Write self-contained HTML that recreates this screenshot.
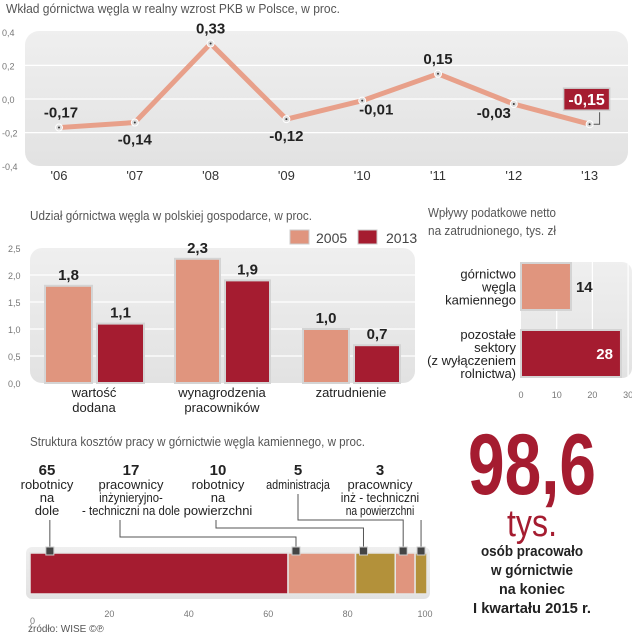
<!DOCTYPE html>
<html><head><meta charset="utf-8">
<style>
body{margin:0;background:#fff;}
svg{display:block;font-family:"Liberation Sans Narrow","Liberation Sans",sans-serif;}
.t{fill:#555;font-size:13px;}
.ax{fill:#777;font-size:9px;}
.lb{fill:#222;font-size:15px;font-weight:bold;}
.cat{fill:#222;font-size:13px;}
</style></head><body>
<svg id="c" width="632" height="640" viewBox="0 0 632 640">
<defs>
<linearGradient id="pg" x1="0" y1="0" x2="0" y2="1"><stop offset="0" stop-color="#efefef"/><stop offset="1" stop-color="#e2e2e2"/></linearGradient>
</defs>
<text class="t" x="6" y="13" textLength="334" lengthAdjust="spacingAndGlyphs">Wkład górnictwa węgla w realny wzrost PKB w Polsce, w proc.</text>
<rect x="25" y="31" width="603" height="135" rx="14" fill="url(#pg)"/>
<g id="lineG"></g>
<text class="t" x="30" y="220" textLength="282" lengthAdjust="spacingAndGlyphs">Udział górnictwa węgla w polskiej gospodarce, w proc.</text>
<rect x="290" y="230" width="19" height="14" fill="#e0957e" stroke="#ccc"/>
<text x="316" y="243" fill="#444" font-size="14">2005</text>
<rect x="358" y="230" width="19" height="14" fill="#a51c30" stroke="#ccc"/>
<text x="386" y="243" fill="#444" font-size="14">2013</text>
<rect x="30" y="248" width="385" height="135" rx="12" fill="url(#pg)"/>
<g id="barG"></g>
<text class="t" x="428" y="217" textLength="128" lengthAdjust="spacingAndGlyphs">Wpływy podatkowe netto</text>
<text class="t" x="428" y="235" textLength="128" lengthAdjust="spacingAndGlyphs">na zatrudnionego, tys. zł</text>
<rect x="521" y="262" width="111" height="116" rx="10" fill="url(#pg)"/>
<g id="taxG"></g>
<text class="t" x="30" y="446" textLength="335" lengthAdjust="spacingAndGlyphs">Struktura kosztów pracy w górnictwie węgla kamiennego, w proc.</text>
<rect x="26" y="547" width="404" height="52" rx="6" fill="url(#pg)"/>
<g id="stackG"></g>
<text x="468" y="494" textLength="128" lengthAdjust="spacingAndGlyphs" fill="#a51c30" font-size="86" font-weight="bold">98,6</text>
<text x="532" y="536" text-anchor="middle" fill="#a51c30" font-size="38" textLength="50" lengthAdjust="spacingAndGlyphs">tys.</text>
<g font-size="15" font-weight="bold" fill="#222" text-anchor="middle">
<text x="532" y="556" textLength="102" lengthAdjust="spacingAndGlyphs">osób pracowało</text><text x="532" y="575" textLength="82" lengthAdjust="spacingAndGlyphs">w górnictwie</text><text x="532" y="594" textLength="66" lengthAdjust="spacingAndGlyphs">na koniec</text><text x="532" y="613" textLength="118" lengthAdjust="spacingAndGlyphs">I kwartału 2015 r.</text></g>
<text x="28" y="632" fill="#555" font-size="10">źródło: WISE  ©℗</text>
</svg>
<script>
const NS="http://www.w3.org/2000/svg";
function mk(p,tag,at,txt){const e=document.createElementNS(NS,tag);for(const k in at)e.setAttribute(k,at[k]);if(txt!==undefined)e.textContent=txt;p.appendChild(e);return e;}
const years=["'06","'07","'08","'09","'10","'11","'12","'13"];
const gdpVals=[-0.17,-0.14,0.33,-0.12,-0.01,0.15,-0.03,-0.15];
const gdpLabels=["-0,17","-0,14","0,33","-0,12","-0,01","0,15","-0,03","-0,15"];
const gdpTicks=[0.4,0.2,0.0,-0.2,-0.4];
const gdpTickLabels=["0,4","0,2","0,0","-0,2","-0,4"];
const barCats=[["wartość","dodana"],["wynagrodzenia","pracowników"],["zatrudnienie"]];
const v2005=[1.8,2.3,1.0];
const v2013=[1.1,1.9,0.7];
const lbl2005=["1,8","2,3","1,0"];
const lbl2013=["1,1","1,9","0,7"];
const barTicks=[2.5,2.0,1.5,1.0,0.5,0.0];
const barTickLabels=["2,5","2,0","1,5","1,0","0,5","0,0"];
const taxCats=[["górnictwo","węgla","kamiennego"],["pozostałe","sektory","(z wyłączeniem","rolnictwa)"]];
const taxVals=[14,28];
const taxTicks=[0,10,20,30];
const stackVals=[65,17,10,5,3];
const stackNums=["65","17","10","5","3"];
const stackNames=[["robotnicy","na","dole"],["pracownicy","inżynieryjno-","- techniczni na dole"],["robotnicy","na","powierzchni"],["administracja"],["pracownicy","inż - techniczni","na powierzchni"]];
const stackTicks=[0,20,40,60,80,100];

(function(){
 const g=document.getElementById('lineG');
 const y=v=>99-v*168, x=i=>59+i*75.8;
 gdpTicks.forEach((t,i)=>{
  if(Math.abs(t)<0.4){const l=mk(g,'line',{x1:25,x2:628,y1:y(t),y2:y(t),stroke:'#fff','stroke-width':1.2});
  
  }
  const tx=mk(g,'text',{x:2,y:y(t)+4,class:'ax'},gdpTickLabels[i]);
  
  
 });
 const pl=mk(g,'polyline',{points:gdpVals.map((v,i)=>x(i)+','+y(v)).join(' '),fill:'none',stroke:'#e8a08a','stroke-width':5,'stroke-linejoin':'round'});
 
 
 const above=[true,false,true,false,false,true,false,null];
 gdpVals.forEach((v,i)=>{
  const c=mk(g,'circle',{cx:x(i),cy:y(v),r:3.5,fill:'#ddd',stroke:'#fff','stroke-width':1});
  
  
  mk(g,'circle',{cx:x(i),cy:y(v),r:1,fill:'#333'});
  const yl=mk(g,'text',{x:x(i),y:180,'text-anchor':'middle',fill:'#333','font-size':13},years[i]);
  
  
  let lt;
  if(above[i]===null){
   mk(g,'polyline',{points:`${x(i)+4},${y(v)} ${x(i)+10},${y(v)} ${x(i)+10},${y(v)-12}`,fill:'none',stroke:'#555'});
   const r=mk(g,'rect',{x:x(i)-26,y:y(v)-36,width:46,height:22,fill:'#a51c30',stroke:'#ccc','stroke-width':1.5});
   
   
   lt=mk(g,'text',{x:x(i)-3,y:y(v)-19,'text-anchor':'middle',fill:'#fff','font-size':16,'font-weight':'bold'},gdpLabels[i]);
  }else{
   const dx=(i===4||i===6)?14:(i===0?2:0);
   const ty=above[i]?y(v)-10:y(v)+(i===4||i===6?14:22);
   lt=mk(g,'text',{x:x(i)+(i===6?-20:dx),y:ty,'text-anchor':'middle',class:'lb'},gdpLabels[i]);
  }
  
  
 });
})();
(function(){
 const g=document.getElementById('barG');
 const y=v=>383-v*54;
 barTicks.forEach((t,i)=>{
  if(t>0&&t<2.5){const l=mk(g,'line',{x1:30,x2:415,y1:y(t),y2:y(t),stroke:'#fff','stroke-width':1.2});
  
  }
  const tx=mk(g,'text',{x:8,y:y(t)+4,class:'ax'},barTickLabels[i]);
  
  
 });
 const gx=[45,175,303], gw=[47,45,46];
 barCats.forEach((c,i)=>{
  const x1=gx[i], x2=gx[i]+gw[i]+5;
  const b1=mk(g,'rect',{x:x1,y:y(v2005[i]),width:gw[i],height:v2005[i]*54,fill:'#e0957e',stroke:'#d4d4d4','stroke-width':2});
  
  
  const b2=mk(g,'rect',{x:x2,y:y(v2013[i]),width:gw[i],height:v2013[i]*54,fill:'#a51c30',stroke:'#d4d4d4','stroke-width':2});
  
  
  const l1=mk(g,'text',{x:x1+gw[i]/2,y:y(v2005[i])-6,'text-anchor':'middle',class:'lb'},lbl2005[i]);
  
  
  const l2=mk(g,'text',{x:x2+gw[i]/2,y:y(v2013[i])-6,'text-anchor':'middle',class:'lb'},lbl2013[i]);
  
  
  c.forEach((s,j)=>{const t=mk(g,'text',{x:x1+gw[i]+2,y:397+j*15,'text-anchor':'middle',class:'cat'},s);
   
   });
 });
})();
(function(){
 const g=document.getElementById('taxG');
 const x=v=>521+v*3.57;
 taxTicks.forEach(t=>{
  if(t>0){const l=mk(g,'line',{x1:x(t),x2:x(t),y1:262,y2:378,stroke:'#fff','stroke-width':1.2});
  
  }
  const tx=mk(g,'text',{x:x(t),y:398,'text-anchor':'middle',class:'ax'},String(t));
  
  
 });
 const by=[263,330], bh=[47,47];
 taxVals.forEach((v,i)=>{
  const r=mk(g,'rect',{x:521,y:by[i],width:x(v)-521,height:bh[i],fill:i?'#a51c30':'#e0957e',stroke:'#d4d4d4','stroke-width':2});
  
  
  const t=i?mk(g,'text',{x:x(v)-8,y:by[i]+29,'text-anchor':'end',fill:'#fff','font-size':15,'font-weight':'bold'},String(v))
           :mk(g,'text',{x:x(v)+5,y:by[i]+29,class:'lb'},String(v));
  
  
  const cy=by[i]+bh[i]/2-(taxCats[i].length-1)*6.5+5;
  taxCats[i].forEach((s,j)=>{const c=mk(g,'text',{x:516,y:cy+j*13,'text-anchor':'end',class:'cat','font-size':12},s);
   
   });
 });
})();
(function(){
 const g=document.getElementById('stackG');
 const x=v=>30+v*3.97;
 const cols=['#a51c30','#e0957e','#b3913a','#e0957e','#b3913a'];
 let acc=0;
 const labX=[47,131,218,298,380];
 const mX=[5,67,84,94,98.5];
 const hy=[null,537,528,520,null];
 stackVals.forEach((v,i)=>{
  const r=mk(g,'rect',{x:x(acc),y:553,width:v*3.97,height:41,fill:cols[i],stroke:'#e6e6e6','stroke-width':1.5});
  
  
  acc+=v;
  const n=mk(g,'text',{x:labX[i],y:475,'text-anchor':'middle',class:'lb'},stackNums[i]);
  
  
  stackNames[i].forEach((s,j)=>{
   const at={x:labX[i],y:489+j*13,'text-anchor':'middle',class:'cat','font-size':12};
   if(s.length>12){at.textLength=s.length*4.9;at.lengthAdjust='spacingAndGlyphs';}
   const t=mk(g,'text',at,s);
   
   });
  const mx=x(mX[i]);
  const sx=i===1?120:(i===2?216:(i===3?298:mx));
  let pts;
  if(hy[i]) pts=`${sx},${i===3?494:520} ${sx},${hy[i]} ${mx},${hy[i]} ${mx},549`;
  else pts=`${mx},520 ${mx},549`;
  const ln=mk(g,'polyline',{points:pts,fill:'none',stroke:'#555','stroke-width':1});
  
  
  const m=mk(g,'rect',{x:mx-4,y:547,width:8,height:8,fill:'#444',stroke:'#ccc','stroke-width':1});
  
  
 });
 stackTicks.forEach(t=>{
  const tx=mk(g,'text',{x:x(t)-(t===100?2:0),y:t===0?624:617,'text-anchor':t===0?'start':'middle',class:'ax'},String(t));
  
  
 });
})();
</script>
</body></html>
